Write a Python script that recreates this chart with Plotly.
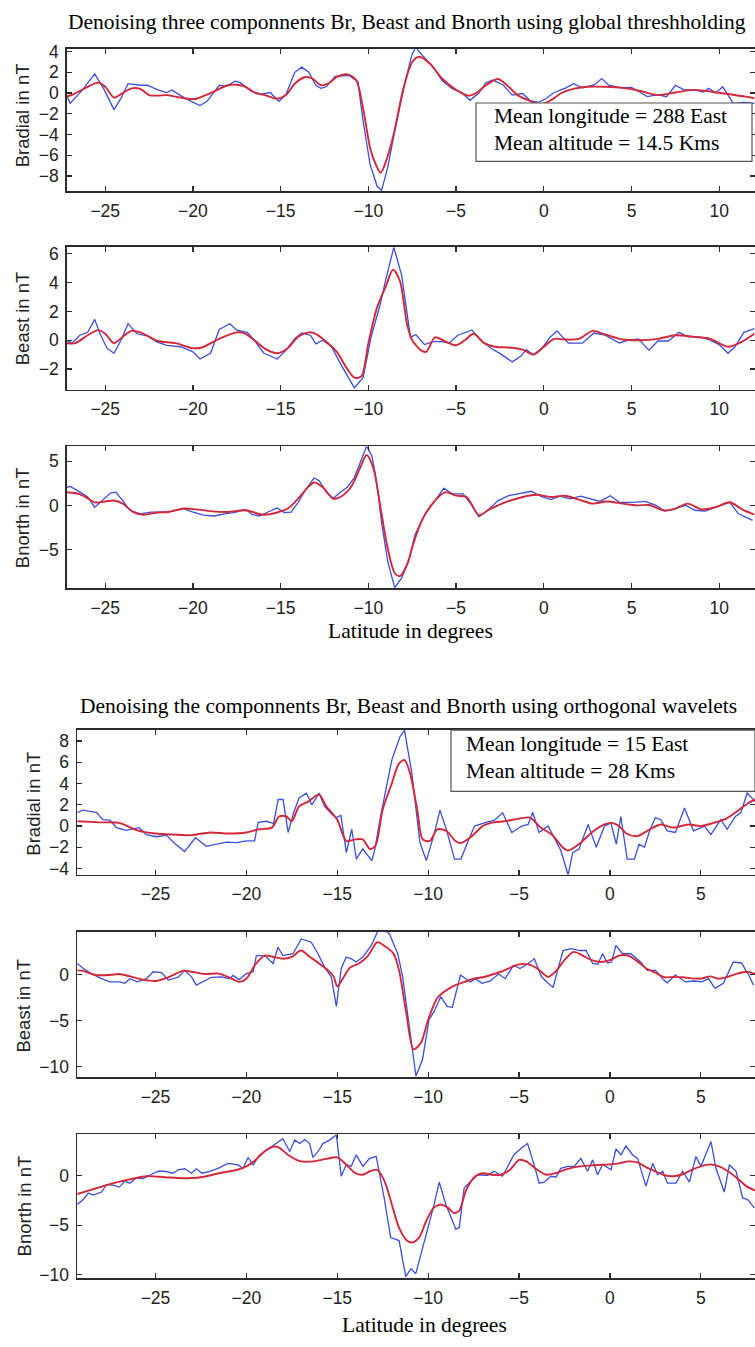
import plotly.graph_objects as go

# ------------------------------------------------------------------ data
# (latitude in degrees, field in nT)

# --- group 1 : global thresholding ---
g1_br_noisy = [(-27.2,-0.2),(-27.0,-1.0),(-26.3,0.3),(-25.6,1.85),(-25.1,0.45),(-24.5,-1.6),(-24.1,-0.5),
    (-23.7,0.9),(-23.0,0.75),(-22.6,0.75),(-22.0,0.3),(-21.5,0.05),(-21.2,0.3),(-20.7,-0.25),(-20.1,-0.8),
    (-19.6,-1.2),(-19.2,-0.8),(-18.5,0.75),(-18.1,0.65),(-17.6,1.15),(-17.3,1.0),(-16.7,0.2),(-16.1,-0.1),
    (-15.6,0.05),(-15.1,-0.8),(-14.7,-0.15),(-14.2,2.0),(-13.8,2.5),(-13.4,2.0),(-13.0,0.75),(-12.7,0.45),
    (-12.4,0.6),(-11.9,1.6),(-11.1,1.7),(-10.6,1.1),(-10.3,-2.7),(-9.9,-6.9),(-9.5,-9.0),(-9.25,-9.4),
    (-8.9,-7.2),(-8.5,-3.7),(-7.9,1.1),(-7.5,3.8),(-7.3,4.4),(-6.9,3.6),(-6.3,2.5),(-5.8,1.2),(-5.2,0.4),
    (-4.7,0.05),(-4.2,-0.7),(-3.7,0.0),(-3.3,1.0),(-2.9,1.25),(-2.3,0.75),(-1.8,-0.2),(-1.2,-0.05),
    (-0.8,-0.7),(-0.3,-0.9),(0.1,-0.55),(0.6,0.05),(1.2,0.45),(1.7,0.9),(2.2,0.5),(2.9,0.8),(3.3,1.4),
    (3.7,0.75),(4.4,0.5),(5.0,0.55),(5.5,0.05),(5.9,-0.35),(6.5,-0.15),(7.0,-0.35),(7.5,0.75),(8.0,0.3),
    (8.6,0.3),(9.1,0.1),(9.4,0.45),(9.8,0.0),(10.2,0.6),(10.8,-1.0),(11.4,-0.9),(12.0,-1.0)]
g1_br_clean = [(-27.2,-0.35),(-26.8,-0.1),(-26.0,0.6),(-25.4,1.0),(-25.0,0.6),(-24.5,-0.45),(-24.1,-0.1),
    (-23.5,0.45),(-23.0,0.4),(-22.5,-0.2),(-22.0,-0.25),(-21.5,-0.2),(-21.0,-0.35),(-20.3,-0.55),
    (-19.8,-0.55),(-19.0,0.0),(-18.0,0.75),(-17.5,0.8),(-17.0,0.6),(-16.5,0.05),(-15.8,-0.25),(-15.2,-0.55),
    (-14.7,-0.2),(-14.2,0.9),(-13.6,1.55),(-13.2,1.4),(-12.7,0.75),(-12.3,0.9),(-11.8,1.55),(-11.2,1.8),
    (-10.7,1.25),(-10.3,-1.5),(-9.9,-5.3),(-9.6,-6.8),(-9.3,-7.7),(-9.0,-6.6),(-8.6,-4.3),(-8.0,0.45),
    (-7.5,3.0),(-7.1,3.5),(-6.5,2.85),(-5.8,1.4),(-5.0,0.3),(-4.3,-0.25),(-3.8,0.05),(-3.3,0.75),
    (-2.6,1.35),(-2.0,0.6),(-1.5,-0.2),(-0.8,-0.75),(-0.2,-1.1),(0.4,-0.7),(1.0,0.0),(1.8,0.45),(2.5,0.6),
    (3.5,0.6),(4.5,0.5),(5.5,0.2),(6.5,-0.2),(7.5,0.05),(8.5,0.3),(9.5,0.15),(10.5,-0.1),(11.5,-0.35),
    (12.0,-0.5)]

g1_be_noisy = [(-27.2,0.0),(-26.9,-0.2),(-26.45,0.35),(-26.0,0.55),(-25.6,1.45),(-25.3,0.45),(-24.9,-0.55),
    (-24.5,-0.9),(-24.1,0.0),(-23.7,1.15),(-23.2,0.45),(-22.6,0.3),(-22.1,-0.1),(-21.5,-0.35),(-20.7,-0.45),
    (-20.0,-0.8),(-19.6,-1.3),(-19.0,-0.9),(-18.5,0.75),(-17.9,1.15),(-17.5,0.7),(-16.9,0.55),(-16.5,0.0),
    (-15.95,-0.9),(-15.2,-1.3),(-14.7,-0.7),(-14.2,0.1),(-13.8,0.5),(-13.3,0.35),(-13.0,-0.25),(-12.6,0.0),
    (-12.1,-0.45),(-11.6,-1.6),(-11.1,-2.7),(-10.8,-3.3),(-10.3,-2.6),(-9.85,0.2),(-9.3,2.6),(-9.05,4.0),
    (-8.55,6.45),(-8.1,4.5),(-7.6,0.2),(-7.3,0.4),(-6.8,-0.3),(-6.3,-0.1),(-5.8,-0.1),(-5.4,-0.2),
    (-4.9,0.35),(-4.1,0.7),(-3.5,-0.1),(-3.0,-0.55),(-2.4,-1.0),(-1.8,-1.5),(-1.3,-1.1),(-1.0,-0.65),
    (-0.6,-1.0),(-0.1,-0.55),(0.35,0.2),(0.75,0.65),(1.4,-0.2),(2.2,-0.2),(2.85,0.5),(3.5,0.35),(4.3,-0.2),
    (4.8,0.0),(5.4,0.1),(6.0,-0.7),(6.5,-0.05),(7.1,-0.05),(7.7,0.55),(8.2,0.25),(9.0,0.2),(9.4,0.05),
    (10.0,-0.3),(10.5,-0.9),(10.9,-0.45),(11.4,0.55),(12.0,0.8)]
g1_be_clean = [(-27.2,-0.2),(-26.7,-0.2),(-26.0,0.35),(-25.4,0.7),(-25.0,0.45),(-24.5,-0.2),(-24.0,0.25),
    (-23.5,0.65),(-23.0,0.55),(-22.5,0.25),(-22.0,-0.05),(-21.0,-0.2),(-20.0,-0.55),(-19.5,-0.5),
    (-18.5,0.1),(-17.5,0.55),(-17.0,0.45),(-16.5,0.0),(-15.8,-0.65),(-15.2,-0.9),(-14.6,-0.55),(-14.0,0.25),
    (-13.4,0.55),(-13.0,0.45),(-12.4,-0.1),(-11.8,-0.8),(-11.3,-1.8),(-10.8,-2.6),(-10.4,-2.5),(-10.0,-0.2),
    (-9.5,2.3),(-9.0,3.75),(-8.6,4.9),(-8.2,4.1),(-7.8,1.15),(-7.5,0.0),(-7.0,-0.7),(-6.7,-0.8),(-6.2,0.2),
    (-5.6,-0.1),(-5.0,-0.35),(-4.5,0.0),(-4.0,0.45),(-3.4,-0.2),(-2.8,-0.45),(-2.0,-0.5),(-1.2,-0.65),
    (-0.6,-1.0),(0.0,-0.45),(0.6,0.1),(1.2,0.05),(2.0,0.1),(2.8,0.65),(3.5,0.4),(4.5,0.05),(5.5,0.0),
    (6.5,0.1),(7.5,0.35),(8.5,0.25),(9.5,0.1),(10.5,-0.45),(11.3,-0.1),(12.0,0.45)]

g1_bn_noisy = [(-27.2,2.05),(-27.0,2.15),(-26.6,1.7),(-26.0,0.95),(-25.6,-0.2),(-25.2,0.55),(-24.7,1.4),
    (-24.4,1.5),(-24.0,0.55),(-23.6,-0.55),(-23.0,-0.95),(-22.4,-0.75),(-21.8,-0.75),(-21.2,-0.65),
    (-20.6,-0.35),(-20.0,-0.75),(-19.4,-1.1),(-18.8,-1.2),(-18.2,-0.95),(-17.6,-0.8),(-17.0,-0.45),
    (-16.6,-1.05),(-16.2,-1.2),(-15.8,-0.8),(-15.2,-0.3),(-14.8,-0.8),(-14.4,-0.75),(-14.0,0.35),(-13.6,1.7),
    (-13.1,3.1),(-12.8,2.8),(-12.4,1.5),(-12.0,0.8),(-11.6,1.5),(-11.2,2.05),(-10.8,3.15),(-10.4,5.2),
    (-10.1,6.7),(-9.8,5.6),(-9.62,3.7),(-9.43,1.1),(-9.25,-1.9),(-8.9,-6.3),(-8.5,-9.3),(-8.1,-8.2),
    (-7.7,-6.3),(-7.35,-3.35),(-6.8,-1.1),(-6.2,0.55),(-5.7,1.95),(-5.2,1.3),(-4.6,1.3),(-4.1,0.0),
    (-3.7,-1.3),(-3.2,-0.55),(-2.6,0.55),(-2.0,1.1),(-1.3,1.4),(-0.7,1.6),(-0.2,1.05),(0.4,0.65),(0.9,1.05),
    (1.5,0.75),(2.1,1.05),(2.6,0.75),(3.2,0.45),(3.8,1.1),(4.3,0.35),(5.1,0.35),(5.8,0.45),(6.4,0.0),
    (6.9,-0.65),(7.5,-0.35),(8.1,0.0),(8.6,-0.55),(9.2,-0.65),(9.8,-0.2),(10.4,0.2),(10.6,0.35),
    (11.1,-0.95),(11.9,-1.7)]
g1_bn_clean = [(-27.2,1.5),(-26.5,1.3),(-26.0,0.8),(-25.6,0.35),(-25.0,0.45),(-24.5,0.55),(-24.0,0.2),
    (-23.4,-0.75),(-22.8,-1.05),(-22.0,-0.8),(-21.4,-0.75),(-20.5,-0.35),(-19.8,-0.45),(-19.0,-0.65),
    (-18.0,-0.75),(-17.0,-0.55),(-16.0,-1.05),(-15.2,-0.8),(-14.6,-0.35),(-14.2,0.35),(-13.6,1.7),
    (-13.1,2.6),(-12.6,2.05),(-12.0,0.75),(-11.6,0.95),(-11.0,2.05),(-10.5,4.1),(-10.1,5.7),(-9.7,4.1),
    (-9.3,-0.35),(-8.9,-4.85),(-8.5,-7.65),(-8.2,-8.0),(-7.8,-6.7),(-7.4,-4.1),(-6.9,-1.5),(-6.2,0.55),
    (-5.6,1.5),(-5.0,1.1),(-4.4,0.95),(-3.7,-1.1),(-3.1,-0.45),(-2.2,0.35),(-1.2,0.95),(-0.4,1.2),
    (0.4,0.95),(1.2,1.1),(2.0,0.65),(2.8,0.2),(3.6,0.45),(4.5,0.2),(5.3,0.0),(6.0,0.05),(6.8,-0.55),
    (7.4,-0.45),(8.2,0.2),(9.0,-0.45),(9.8,-0.2),(10.6,0.35),(11.3,-0.45),(12.0,-1.05)]

# --- group 2 : orthogonal wavelets ---
g2_br_noisy = [(-29.3,1.25),(-29.0,1.5),(-28.25,1.3),(-27.9,0.6),(-27.5,0.55),(-27.15,-0.15),(-26.6,-0.4),
    (-26.2,-0.25),(-25.9,-0.15),(-25.5,-0.8),(-24.95,-1.0),(-24.4,-0.85),(-24.0,-1.55),(-23.4,-2.4),
    (-22.8,-1.1),(-22.2,-1.9),(-21.6,-1.7),(-21.1,-1.5),(-20.55,-1.55),(-20.0,-1.4),(-19.55,-1.4),
    (-19.35,0.35),(-18.9,0.45),(-18.5,0.25),(-18.25,2.5),(-17.98,2.5),(-17.7,-0.6),(-17.4,1.25),(-17.1,2.65),
    (-16.7,3.1),(-16.4,2.0),(-16.0,3.1),(-15.7,1.85),(-15.3,1.1),(-15.05,0.8),(-14.8,1.0),(-14.5,-2.5),
    (-14.2,-0.3),(-13.95,-3.1),(-13.6,-2.15),(-13.1,-3.25),(-12.95,-2.3),(-12.58,1.25),(-12.0,6.2),
    (-11.55,8.4),(-11.3,9.0),(-10.9,5.0),(-10.45,-1.55),(-10.1,-3.25),(-9.7,-0.95),(-9.35,1.5),(-9.0,-0.3),
    (-8.55,-3.1),(-8.2,-3.1),(-7.8,-1.4),(-7.45,0.0),(-6.9,0.3),(-6.35,0.55),(-5.9,1.25),(-5.4,-0.6),
    (-4.85,0.0),(-4.5,0.15),(-4.25,1.3),(-3.9,-0.6),(-3.4,0.0),(-2.95,-1.4),(-2.7,-2.3),(-2.3,-4.6),
    (-2.05,-2.5),(-1.7,-2.15),(-1.2,0.15),(-0.75,-2.0),(-0.3,0.0),(0.05,0.3),(0.35,-1.7),(0.6,0.9),
    (0.95,-3.1),(1.35,-3.1),(1.6,-1.7),(1.9,-2.0),(2.15,-0.6),(2.5,0.8),(2.8,0.6),(3.15,-0.45),(3.6,-0.6),
    (4.1,1.7),(4.6,-0.45),(5.2,0.0),(5.55,-0.8),(6.1,0.6),(6.45,-0.3),(6.9,0.9),(7.2,1.25),(7.55,3.1),
    (7.9,2.5),(8.0,2.3)]
g2_br_clean = [(-29.3,0.45),(-28.0,0.35),(-27.0,0.3),(-26.0,-0.4),(-25.0,-0.7),(-24.0,-0.8),(-23.0,-0.85),
    (-22.0,-0.6),(-21.0,-0.7),(-20.0,-0.6),(-19.3,-0.3),(-18.6,-0.15),(-18.2,0.9),(-17.8,0.9),(-17.5,0.45),
    (-17.1,1.85),(-16.6,2.3),(-16.0,2.95),(-15.6,1.85),(-15.0,0.6),(-14.5,-1.4),(-14.0,-1.25),(-13.6,-1.25),
    (-13.2,-2.15),(-12.9,-1.85),(-12.5,1.55),(-12.0,4.0),(-11.6,5.9),(-11.3,6.2),(-11.0,5.0),(-10.6,1.55),
    (-10.3,-1.25),(-9.9,-1.4),(-9.5,-0.3),(-9.0,-0.45),(-8.5,-1.4),(-8.2,-1.6),(-7.6,-0.95),(-7.0,0.0),
    (-6.4,0.35),(-5.8,0.45),(-5.0,0.7),(-4.4,0.8),(-3.8,-0.15),(-3.2,-0.8),(-2.6,-2.0),(-2.3,-2.3),
    (-1.7,-1.7),(-1.0,-0.6),(-0.3,0.15),(0.1,0.3),(0.5,0.0),(0.9,-0.7),(1.5,-0.95),(2.2,-0.3),(2.8,0.15),
    (3.5,-0.15),(4.3,0.15),(5.0,0.0),(5.7,0.3),(6.4,0.7),(7.0,1.4),(7.6,2.15),(8.0,2.5)]

g2_be_noisy = [(-29.3,1.2),(-28.97,0.65),(-28.52,0.1),(-27.97,-0.45),(-27.51,-0.8),(-27.0,-0.8),(-26.68,-0.95),
    (-26.41,-0.45),(-26.01,-0.8),(-25.49,-0.45),(-25.13,0.3),(-24.67,0.2),(-24.3,-0.6),(-23.75,-0.3),
    (-23.39,0.45),(-23.02,-0.25),(-22.75,-1.15),(-22.38,-0.8),(-21.92,-0.3),(-21.37,-0.25),(-20.92,-0.45),
    (-20.73,-0.1),(-20.4,-0.55),(-20.0,0.1),(-19.63,0.3),(-19.45,2.05),(-19.18,2.05),(-18.9,1.9),
    (-18.53,1.2),(-18.26,2.95),(-17.99,2.05),(-17.44,2.25),(-16.98,3.85),(-16.43,3.5),(-16.06,2.25),
    (-15.7,0.8),(-15.33,-0.25),(-15.05,-3.45),(-14.78,0.65),(-14.51,1.9),(-14.23,1.7),(-13.96,1.35),
    (-13.59,1.9),(-13.13,3.15),(-12.77,4.7),(-12.45,4.9),(-12.13,4.4),(-11.67,2.25),(-11.4,-0.25),
    (-11.04,-5.6),(-10.67,-11.0),(-10.31,-9.2),(-9.95,-4.9),(-9.67,-4.0),(-9.31,-2.4),(-8.95,-3.45),
    (-8.67,-3.55),(-8.22,-0.05),(-7.67,-0.8),(-7.4,-0.45),(-7.04,-0.95),(-6.58,-0.7),(-6.13,0.05),
    (-5.76,-0.45),(-5.31,1.0),(-4.95,0.65),(-4.49,1.2),(-4.16,1.7),(-3.76,-0.25),(-3.4,-0.95),(-3.13,-1.4),
    (-2.58,2.6),(-2.13,2.8),(-1.67,2.6),(-1.31,2.6),(-0.95,1.2),(-0.67,1.1),(-0.4,2.25),(-0.13,1.25),
    (0.09,1.35),(0.33,3.15),(0.69,2.25),(1.15,2.25),(1.69,1.35),(2.05,0.45),(2.51,0.45),(2.96,-0.6),
    (3.15,-0.9),(3.6,-0.05),(4.15,-0.8),(4.6,-0.7),(5.05,-0.8),(5.42,-0.45),(5.78,-1.5),(6.24,-0.95),
    (6.78,1.35),(7.24,1.25),(7.6,0.05),(7.9,-1.15)]
g2_be_clean = [(-29.3,0.45),(-29.0,0.4),(-28.3,-0.05),(-27.5,-0.05),(-27.0,0.05),(-26.4,-0.2),(-25.7,-0.55),
    (-25.0,-0.7),(-24.3,-0.3),(-23.5,0.4),(-23.0,0.3),(-22.3,0.05),(-21.5,0.1),(-20.8,-0.45),(-20.4,-0.8),
    (-20.0,-0.45),(-19.5,1.1),(-19.0,2.05),(-18.5,1.9),(-18.0,1.7),(-17.5,1.9),(-17.0,2.6),(-16.5,1.9),
    (-16.0,1.2),(-15.5,0.45),(-15.2,-0.2),(-15.0,-1.3),(-14.7,-0.45),(-14.3,0.75),(-13.8,1.2),(-13.3,2.05),
    (-12.8,3.5),(-12.3,2.95),(-11.9,2.25),(-11.6,0.45),(-11.2,-4.2),(-10.8,-8.1),(-10.4,-7.4),(-10.0,-4.9),
    (-9.5,-2.55),(-9.0,-1.7),(-8.5,-1.15),(-8.0,-0.8),(-7.5,-0.45),(-7.0,-0.3),(-6.0,0.3),(-5.0,1.1),
    (-4.5,1.1),(-4.0,0.65),(-3.4,-0.25),(-3.0,0.3),(-2.5,1.55),(-2.0,2.45),(-1.5,2.05),(-1.0,1.55),
    (-0.5,1.35),(0.0,1.55),(0.5,2.05),(1.0,2.05),(1.5,1.45),(2.0,0.65),(2.5,0.2),(3.0,-0.3),(3.5,-0.25),
    (4.0,-0.3),(5.0,-0.45),(5.5,-0.2),(6.0,-0.45),(6.5,-0.25),(7.0,0.1),(7.5,0.3),(8.0,0.05)]

g2_bn_noisy = [(-29.3,-2.9),(-28.97,-2.4),(-28.7,-1.75),(-28.42,-1.95),(-27.97,-1.65),(-27.69,-0.9),
    (-27.33,-0.95),(-27.0,-1.15),(-26.68,-0.55),(-26.41,-0.75),(-26.08,-0.25),(-25.68,-0.3),(-25.31,0.05),
    (-24.85,0.45),(-24.49,0.45),(-24.03,0.25),(-23.75,0.6),(-23.39,0.7),(-23.02,0.25),(-22.75,0.7),
    (-22.44,0.25),(-22.01,0.45),(-21.56,0.75),(-21.01,1.25),(-20.46,1.1),(-20.18,0.75),(-19.91,1.85),
    (-19.63,1.1),(-19.27,2.1),(-18.9,2.6),(-18.63,2.95),(-18.35,3.25),(-17.99,3.75),(-17.62,2.45),
    (-17.34,3.6),(-17.07,3.25),(-16.79,3.65),(-16.52,3.25),(-16.34,1.85),(-16.06,2.45),(-15.79,3.25),
    (-15.42,3.6),(-15.05,4.15),(-14.78,-0.05),(-14.51,1.1),(-14.23,0.95),(-13.96,2.1),(-13.59,0.95),
    (-13.22,1.75),(-12.86,1.95),(-12.67,0.2),(-12.42,-2.25),(-12.06,-6.25),(-11.6,-6.55),(-11.23,-10.2),
    (-10.95,-9.4),(-10.68,-9.9),(-10.4,-7.9),(-9.94,-4.9),(-9.67,-2.9),(-9.39,-0.65),(-9.03,-2.9),
    (-8.66,-4.55),(-8.48,-5.4),(-8.29,-5.25),(-8.02,-1.25),(-7.65,-0.55),(-7.28,0.1),(-6.73,0.05),
    (-6.37,0.45),(-5.91,-0.05),(-5.63,0.95),(-5.27,2.15),(-4.9,2.75),(-4.53,3.25),(-4.17,1.1),(-3.89,-0.75),
    (-3.61,-0.65),(-3.25,-0.05),(-2.97,-0.15),(-2.7,0.75),(-2.33,0.95),(-1.96,0.95),(-1.6,1.75),(-1.23,0.45),
    (-0.95,1.6),(-0.68,0.1),(-0.4,1.15),(0.06,0.6),(0.33,2.7),(0.61,2.1),(0.88,3.0),(1.25,2.1),(1.52,1.75),
    (1.98,-1.05),(2.35,1.25),(2.62,0.1),(2.9,0.45),(3.17,-0.75),(3.63,-0.75),(4.0,0.45),(4.37,-0.65),
    (4.73,1.95),(5.01,0.95),(5.28,2.1),(5.56,3.45),(5.83,0.75),(6.29,-1.65),(6.57,1.1),(6.94,0.45),
    (7.3,-2.25),(7.58,-2.4),(7.94,-3.25)]
g2_bn_clean = [(-29.3,-1.85),(-28.5,-1.4),(-27.5,-0.85),(-26.5,-0.4),(-25.5,-0.05),(-24.5,-0.15),
    (-23.5,-0.25),(-22.5,-0.15),(-21.5,0.25),(-20.5,0.6),(-20.0,0.95),(-19.5,1.6),(-19.0,2.45),(-18.5,2.95),
    (-18.2,2.85),(-17.7,2.1),(-17.0,1.45),(-16.3,1.45),(-15.6,1.7),(-15.0,1.85),(-14.5,1.1),(-14.0,0.25),
    (-13.6,0.1),(-13.2,0.45),(-12.8,0.6),(-12.4,-0.55),(-12.0,-2.9),(-11.6,-5.25),(-11.2,-6.5),(-10.9,-6.75),
    (-10.5,-6.25),(-10.1,-4.55),(-9.7,-3.25),(-9.3,-2.9),(-8.9,-3.25),(-8.6,-3.75),(-8.3,-3.55),(-7.9,-1.4),
    (-7.4,-0.05),(-7.0,0.25),(-6.5,0.1),(-6.0,0.1),(-5.5,0.6),(-5.0,1.6),(-4.6,1.45),(-4.0,0.6),(-3.5,0.1),
    (-3.0,0.25),(-2.5,0.6),(-2.0,0.85),(-1.0,1.05),(0.0,1.15),(0.5,1.25),(1.0,1.45),(1.5,1.35),(2.0,0.85),
    (2.5,0.45),(3.0,0.05),(3.5,-0.05),(4.0,0.15),(4.5,0.6),(5.0,0.95),(5.5,1.15),(6.0,0.95),(6.5,0.45),
    (7.0,-0.25),(7.5,-1.05),(8.0,-1.5)]

g1_xtick_vals = [-25, -20, -15, -10, -5, 0, 5, 10]
g1_xtick_text = ["\u221225", "\u221220", "\u221215", "\u221210", "\u22125", "0", "5", "10"]
g2_xtick_vals = [-25, -20, -15, -10, -5, 0, 5]
g2_xtick_text = ["\u221225", "\u221220", "\u221215", "\u221210", "\u22125", "0", "5"]

g1_title = "Denoising three componnents Br, Beast and Bnorth using global threshholding"
g2_title = "Denoising the componnents Br, Beast and Bnorth using orthogonal wavelets"
x_title = "Latitude in degrees"
g1_info = ["Mean longitude = 288 East", "Mean altitude = 14.5 Kms"]
g2_info = ["Mean longitude = 15 East", "Mean altitude = 28 Kms"]

# ------------------------------------------------------------------ layout constants (pixels)
W, H = 755, 1347
BLUE = "#3a4ee0"
RED = "#d4283a"
AX = "#2b2b2b"
SANS = "Liberation Sans, Arial, Helvetica, sans-serif"
SERIF = "Liberation Serif, Times New Roman, serif"


def yt(v):
    return [("\u2212" + str(abs(t))) if t < 0 else str(t) for t in v]


panels = [
    dict(noisy=g1_br_noisy, clean=g1_br_clean, left=67, top=42, bot=186, xr=[-27.18, 12.04], yr=[-9.46, 4.29],
         yv=[-8, -6, -4, -2, 0, 2, 4], xv=g1_xtick_vals, xtxt=g1_xtick_text,
         lab="Bradial in nT", lx=22.5, ly=110),
    dict(noisy=g1_be_noisy, clean=g1_be_clean, left=67, top=242.7, bot=386.7, xr=[-27.18, 12.04], yr=[-3.43, 6.46],
         yv=[-2, 0, 2, 4, 6], xv=g1_xtick_vals, xtxt=g1_xtick_text,
         lab="Beast in nT", lx=22.5, ly=315),
    dict(noisy=g1_bn_noisy, clean=g1_bn_clean, left=67, top=444, bot=587.3, xr=[-27.18, 12.04], yr=[-9.37, 6.68],
         yv=[-5, 0, 5], xv=g1_xtick_vals, xtxt=g1_xtick_text,
         lab="Bnorth in nT", lx=22.5, ly=516),
    dict(noisy=g2_br_noisy, clean=g2_br_clean, left=77.3, top=730.7, bot=876.7, xr=[-29.3, 7.98], yr=[-4.56, 9.02],
         yv=[-4, -2, 0, 2, 4, 6, 8], xv=g2_xtick_vals, xtxt=g2_xtick_text,
         lab="Bradial in nT", lx=34, ly=805),
    dict(noisy=g2_be_noisy, clean=g2_be_clean, left=77.3, top=934.3, bot=1081.7, xr=[-29.3, 7.98], yr=[-11.15, 4.65],
         yv=[-10, -5, 0], xv=g2_xtick_vals, xtxt=g2_xtick_text,
         lab="Beast in nT", lx=24, ly=1009),
    dict(noisy=g2_bn_noisy, clean=g2_bn_clean, left=77.3, top=1139.3, bot=1284.3, xr=[-29.3, 7.98], yr=[-10.33, 4.17],
         yv=[-10, -5, 0], xv=g2_xtick_vals, xtxt=g2_xtick_text,
         lab="Bnorth in nT", lx=24, ly=1212),
]

fig = go.Figure()
layout = {}
annotations = []
n = len(panels)
for i, p in enumerate(panels, start=1):
    xname = "x" if i == 1 else f"x{i}"
    yname = "y" if i == 1 else f"y{i}"
    rname = f"y{i + n}"
    nx = [a for a, b in p["noisy"]]
    ny = [b for a, b in p["noisy"]]
    cx = [a for a, b in p["clean"]]
    cy = [b for a, b in p["clean"]]
    fig.add_trace(go.Scatter(x=nx, y=ny, xaxis=xname, yaxis=yname, mode="lines",
                             line=dict(color=BLUE, width=1.3), showlegend=False, hoverinfo="skip"))
    fig.add_trace(go.Scatter(x=cx, y=cy, xaxis=xname, yaxis=yname, mode="lines",
                             line=dict(color=RED, width=1.9, shape="spline", smoothing=0.8),
                             showlegend=False, hoverinfo="skip"))
    fig.add_trace(go.Scatter(x=[], y=[], xaxis=xname, yaxis=rname, showlegend=False, hoverinfo="skip"))
    dom_y = [1 - p["bot"] / H, 1 - p["top"] / H]
    layout[f"xaxis{i}"] = dict(domain=[p["left"] / W, 1.0], range=p["xr"], anchor=yname,
                               tickvals=p["xv"], ticktext=p["xtxt"], ticks="inside", ticklen=5, tickwidth=1.2,
                               tickcolor=AX, showline=True, mirror="ticks", linecolor=AX, linewidth=1.8,
                               showgrid=False, zeroline=False, ticklabelstandoff=3,
                               tickfont=dict(family=SANS, size=17.5, color="#222222"))
    layout[f"yaxis{i}"] = dict(domain=dom_y, range=p["yr"], anchor=xname,
                               tickvals=p["yv"], ticktext=yt(p["yv"]), ticks="inside", ticklen=5, tickwidth=1.2,
                               tickcolor=AX, showline=True, mirror=False, linecolor=AX, linewidth=1.8,
                               showgrid=False, zeroline=False, ticklabelstandoff=3,
                               tickfont=dict(family=SANS, size=17.5, color="#222222"))
    layout[f"yaxis{i + n}"] = dict(overlaying=yname, side="right", anchor=xname, range=p["yr"],
                                   tickvals=p["yv"], ticks="inside", ticklen=5, tickwidth=1.2, tickcolor=AX,
                                   showticklabels=False, showline=False, showgrid=False, zeroline=False)
    annotations.append(dict(text=p["lab"], x=p["lx"] / W, y=1 - p["ly"] / H, xref="paper", yref="paper",
                            textangle=-90, showarrow=False, xanchor="center", yanchor="middle",
                            font=dict(family=SANS, size=18.5, color="#222222")))

# titles and x labels
for txt, cx, cy in [(g1_title, 407, 15), (g2_title, 408, 706), (x_title, 410, 631), (x_title, 424, 1332)]:
    annotations.append(dict(text=txt, x=cx / W, y=1 - cy / H, xref="paper", yref="paper", showarrow=False,
                            xanchor="center", yanchor="middle", font=dict(family=SERIF, size=21.5, color="black")))

# info boxes
shapes = [
    dict(type="rect", xref="paper", yref="paper", x0=476 / W, x1=752 / W, y0=1 - 156 / H, y1=1 - 97 / H,
         line=dict(color="#555555", width=1.2), fillcolor="white", layer="above"),
    dict(type="rect", xref="paper", yref="paper", x0=451 / W, x1=1.0, y0=1 - 792.7 / H, y1=1 - 730.7 / H,
         line=dict(color="#555555", width=1.2), fillcolor="white", layer="above"),
]
for txt, lx, ly in [(g1_info[0], 492, 110), (g1_info[1], 492, 137.5), (g2_info[0], 464, 745), (g2_info[1], 464, 772)]:
    annotations.append(dict(text=txt, x=lx / W, y=1 - ly / H, xref="paper", yref="paper", showarrow=False,
                            xanchor="left", yanchor="middle", font=dict(family=SERIF, size=21.5, color="black")))

fig.update_layout(width=W, height=H, margin=dict(l=0, r=0, t=0, b=0), paper_bgcolor="white",
                  plot_bgcolor="white", showlegend=False, annotations=annotations, shapes=shapes, **layout)
fig.write_html("out.html", config={"displayModeBar": False, "staticPlot": True},
               post_script="document.body.style.margin='0px';document.body.style.padding='0px';"
                           "document.documentElement.style.overflow='hidden';")
